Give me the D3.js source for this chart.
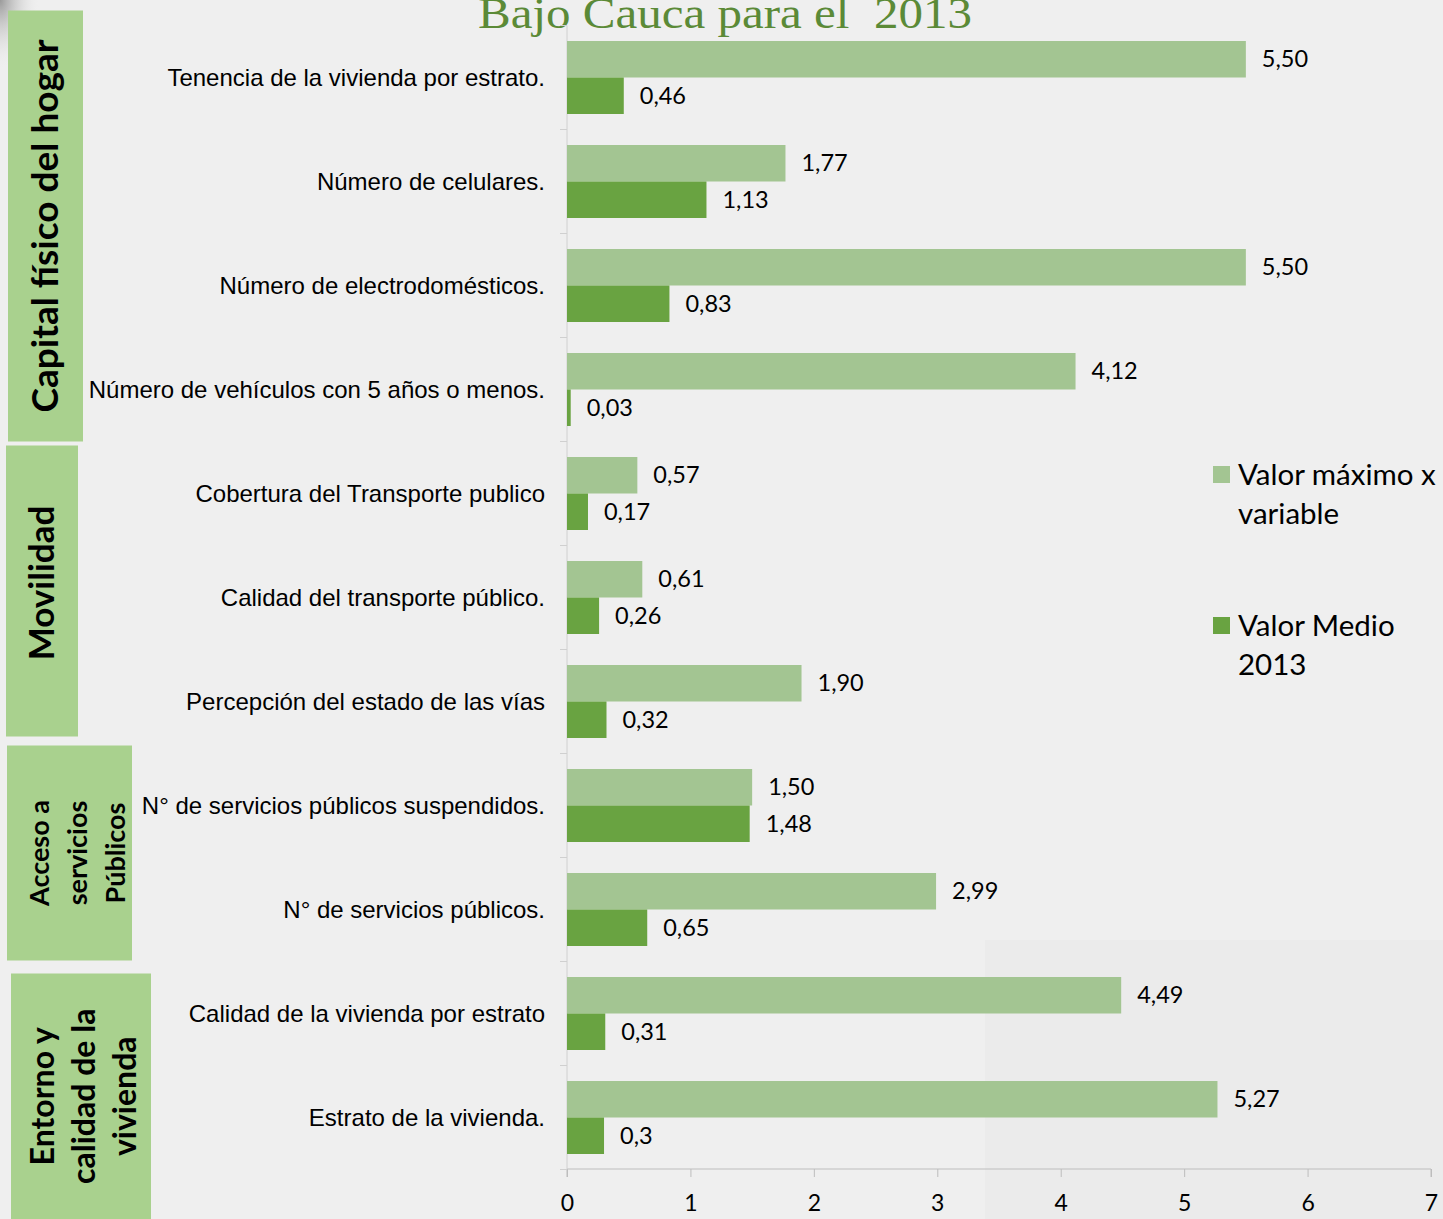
<!DOCTYPE html>
<meta charset="utf-8">
<script src="https://d3js.org/d3.v7.min.js"></script>
<style>
  body { margin: 0; background: #efefef; }
  svg { display: block; }
</style>
<div id="my_dataviz"></div>
<script>

// categories, top to bottom
var categories = [
  "Tenencia de la vivienda por estrato.",
  "Número de celulares.",
  "Número de electrodomésticos.",
  "Número de vehículos con 5 años o menos.",
  "Cobertura del Transporte publico",
  "Calidad del transporte público.",
  "Percepción del estado de las vías",
  "N° de servicios públicos suspendidos.",
  "N° de servicios públicos.",
  "Calidad de la vivienda por estrato",
  "Estrato de la vivienda."
]
// series, as printed on the chart
var maxLabels   = ["5,50", "1,77", "5,50", "4,12", "0,57", "0,61", "1,90", "1,50", "2,99", "4,49", "5,27"]
var medioLabels = ["0,46", "1,13", "0,83", "0,03", "0,17", "0,26", "0,32", "1,48", "0,65", "0,31", "0,3"]
var seriesNames = ["Valor máximo x variable", "Valor Medio 2013"]
var xTicks = [0, 1, 2, 3, 4, 5, 6, 7]

// groups on the left: first / last category index
var groupNames = [["Capital físico del hogar"], ["Movilidad"], ["Acceso a", "servicios", "Públicos"], ["Entorno y", "calidad de la", "vivienda"]]
var groupFirst = [0, 4, 7, 9]
var groupLast  = [3, 6, 8, 10]

var toNum = function(s) { return +s.replace(",", ".") }
var maxVals = maxLabels.map(toNum)
var medioVals = medioLabels.map(toNum)

var width = 1443, height = 1219
var colMax = "#a3c592", colMedio = "#69a341", colGroup = "#a9d18e"

var svg = d3.select("#my_dataviz").append("svg")
  .attr("width", width).attr("height", height)

// background
svg.append("rect").attr("width", width).attr("height", height).attr("fill", "#efefef")
svg.append("rect").attr("x", 985).attr("y", 940).attr("width", width - 985).attr("height", height - 940).attr("fill", "#ebebeb")

// corner decoration
var grad = svg.append("defs").append("radialGradient").attr("id", "corner")
  .attr("cx", 0).attr("cy", 0).attr("r", 1)
grad.append("stop").attr("offset", "0%").attr("stop-color", "#9a9a9a")
grad.append("stop").attr("offset", "100%").attr("stop-color", "#efefef").attr("stop-opacity", 0)
svg.append("rect").attr("width", 40).attr("height", 70).attr("fill", "url(#corner)")

// scales
var x = d3.scaleLinear().domain([0, 7]).range([567, 1431])
var y = d3.scaleBand().domain(categories).range([25.5, 1169.5])
var ySub = d3.scaleBand().domain(["max", "medio"]).range([15.5, 88.5])

// title (cut by the top edge, as in the original slide)
svg.append("text")
  .attr("x", 478).attr("y", 28)
  .attr("textLength", 494).attr("lengthAdjust", "spacingAndGlyphs")
  .style("white-space", "pre")
  .style("font-family", "'Liberation Serif', 'DejaVu Serif', serif")
  .style("font-size", "44px")
  .style("fill", "#5b8a37")
  .text("Bajo Cauca para el  2013")

// x axis
var xAxis = svg.append("g")
  .attr("transform", "translate(0,1169)")
  .call(d3.axisBottom(x).tickValues(xTicks).tickSize(8).tickPadding(18).tickFormat(d3.format("d")))
xAxis.selectAll("line, path").attr("stroke", "#bdbdbd")
xAxis.select(".domain").attr("d", "M567,8V0H1431V8")
xAxis.selectAll("text")
  .style("font-family", "Lato, 'Open Sans', sans-serif")
  .style("font-size", "23px")
  .style("fill", "#000")

// y axis line with ticks at band boundaries
svg.append("line").attr("x1", 567).attr("x2", 567).attr("y1", y.range()[0]).attr("y2", y.range()[1])
  .attr("stroke", "#d0d0d0")
svg.selectAll(".ytick").data(categories.concat(["end"]))
  .enter().append("line")
  .attr("x1", 560).attr("x2", 567)
  .attr("y1", function(d, i) { return y.range()[0] + i * y.step() })
  .attr("y2", function(d, i) { return y.range()[0] + i * y.step() })
  .attr("stroke", "#d0d0d0")

// bars
var rows = categories.map(function(c, i) { return {cat: c, max: maxVals[i], medio: medioVals[i], maxL: maxLabels[i], medioL: medioLabels[i]} })

var g = svg.selectAll(".row").data(rows).enter().append("g")
  .attr("transform", function(d) { return "translate(0," + y(d.cat) + ")" })

g.append("rect")
  .attr("x", x(0)).attr("y", ySub("max"))
  .attr("width", function(d) { return x(d.max) - x(0) })
  .attr("height", ySub.bandwidth())
  .attr("fill", colMax)
g.append("rect")
  .attr("x", x(0)).attr("y", ySub("medio"))
  .attr("width", function(d) { return Math.max(2, x(d.medio) - x(0)) })
  .attr("height", ySub.bandwidth())
  .attr("fill", colMedio)

var valFont = "Lato, 'Open Sans', sans-serif"
g.append("text")
  .attr("x", function(d) { return x(d.max) + 16 })
  .attr("y", ySub("max") + ySub.bandwidth() / 2)
  .attr("dy", "0.35em")
  .style("font-family", valFont).style("font-size", "23.5px").style("fill", "#000")
  .text(function(d) { return d.maxL })
g.append("text")
  .attr("x", function(d) { return x(d.medio) + 16 })
  .attr("y", ySub("medio") + ySub.bandwidth() / 2)
  .attr("dy", "0.35em")
  .style("font-family", valFont).style("font-size", "23.5px").style("fill", "#000")
  .text(function(d) { return d.medioL })

// category labels
g.append("text")
  .attr("x", 545)
  .attr("y", y.bandwidth() / 2)
  .attr("dy", "0.35em")
  .attr("text-anchor", "end")
  .style("font-family", "'Liberation Sans', Arial, sans-serif")
  .style("font-size", "24px")
  .style("fill", "#000")
  .text(function(d) { return d.cat })

// group boxes
var boxX = [8, 6, 7, 11], boxW = [75, 72, 125, 140]
var boxTop = [-15, 4, -8, 12], boxBot = [0, -17, -1, 60]
var boxFont = [37, 35, 27, 32], boxLine = [38, 38, 38, 41], boxShift = [0, 0, 8, 3], boxDy = [0, -8, 0, 0]
groupNames.forEach(function(lines, i) {
  var top = y(categories[groupFirst[i]]) + boxTop[i]
  var bot = y(categories[groupLast[i]]) + y.bandwidth() + boxBot[i]
  svg.append("rect")
    .attr("x", boxX[i]).attr("y", top)
    .attr("width", boxW[i]).attr("height", bot - top)
    .attr("fill", colGroup)
  var cx = boxX[i] + boxW[i] / 2 + boxShift[i], cy = (top + Math.min(bot, height)) / 2 + boxDy[i]
  var t = svg.append("text")
    .attr("transform", "translate(" + cx + "," + cy + ") rotate(-90)")
    .attr("text-anchor", "middle")
    .style("font-family", "Lato, 'Open Sans', sans-serif")
    .style("font-weight", "bold")
    .style("font-size", boxFont[i] + "px")
    .style("fill", "#000")
  lines.forEach(function(l, j) {
    t.append("tspan").attr("x", 0)
      .attr("y", (j - (lines.length - 1) / 2) * boxLine[i])
      .attr("dy", "0.35em")
      .text(l)
  })
})

// legend
var legLines = [["Valor máximo x", "variable"], ["Valor Medio", "2013"]]
var legColors = [colMax, colMedio]
var legY = [466, 617]
seriesNames.forEach(function(s, i) {
  svg.append("rect").attr("x", 1213).attr("y", legY[i]).attr("width", 17).attr("height", 17).attr("fill", legColors[i])
  var t = svg.append("text")
    .style("font-family", "Lato, 'Open Sans', sans-serif")
    .style("font-size", "29.5px").style("fill", "#000")
  legLines[i].forEach(function(l, j) {
    t.append("tspan").attr("x", 1238).attr("y", legY[i] + 19 + j * 39).text(l)
  })
})

</script>
